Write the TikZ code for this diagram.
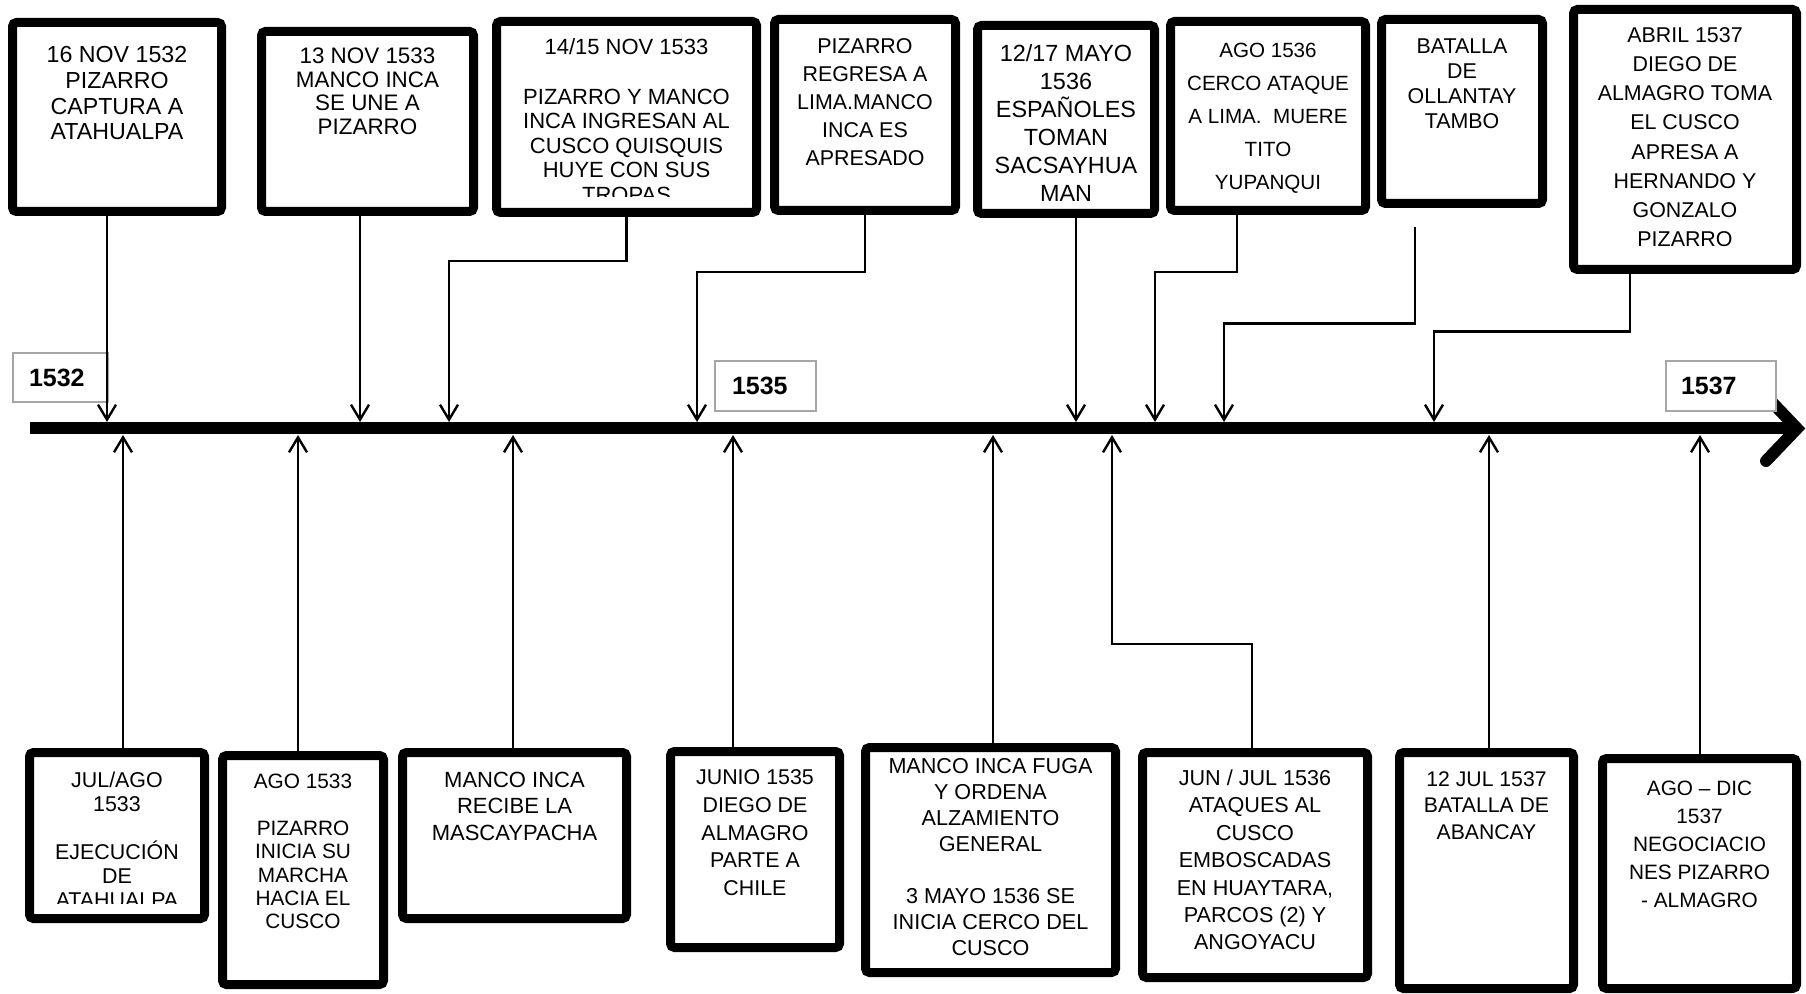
\documentclass[tikz,border=0pt]{standalone}
\usepackage{fontspec}
\setmainfont{Liberation Sans}
\usetikzlibrary{arrows.meta,positioning,calc}

\begin{document}
\begin{tikzpicture}[
  x=0.5pt, y=-0.5pt,
  caja/.style={draw, line width=4.5pt, rounded corners=2pt, fill=white, inner sep=0pt},
  texto/.style={align=center, inner sep=0pt},
  anio/.style={draw=gray!70, line width=0.6pt, fill=white, inner ysep=0pt, align=left,
               font=\fontsize{12.5}{14}\selectfont\bfseries},
  flecha/.style={-{Straight Barb[length=7.5pt,width=9pt]}, line width=1.2pt},
  eje/.style={line width=6pt}
]
\useasboundingbox (0,0) rectangle (1806,994);

% linea de tiempo
\draw[eje] (30,428.5) -- (1797,428.5);
\draw[eje, line cap=round] (1768,398) -- (1797,428.5) -- (1766,461);

\node[anio, minimum width=47.5pt, minimum height=24.5pt, text width=31.5pt, inner xsep=8pt] (a1532) at (60.5,377.5) {1532};
\node[anio, minimum width=50.5pt, minimum height=25pt, text width=33.5pt, inner xsep=8.5pt] (a1535) at (765.5,386) {1535};
\node[anio, minimum width=55pt, minimum height=25pt, text width=40pt, inner xsep=7.5pt] (a1537) at (1721,386) {1537};

% eventos de arriba
\node[caja, minimum width=104.5pt, minimum height=94.5pt] (captura) at (117,117) {};
\node[texto, font=\fontsize{11.6}{12.9}\selectfont, below=14pt of captura.north] (txtcaptura)
  {16 NOV 1532\\PIZARRO\\CAPTURA A\\ATAHUALPA};

\node[caja, minimum width=106pt, minimum height=90pt] (union) at (367.5,121.5) {};
\node[texto, font=\fontsize{11.2}{11.8}\selectfont, below=10.25pt of union.north] (txtunion)
  {13 NOV 1533\\MANCO INCA\\SE UNE A\\PIZARRO};

\node[caja, minimum width=130pt, minimum height=95.5pt] (ingreso) at (626.5,117) {};
\begin{scope}
  \clip (492,17) rectangle (761,197);
  \node[texto, font=\fontsize{11}{12.3}\selectfont, below=10.75pt of ingreso.north] (txtingreso)
    {14/15 NOV 1533\\ \\PIZARRO Y MANCO\\INCA INGRESAN AL\\CUSCO QUISQUIS\\HUYE CON SUS\\TROPAS};
\end{scope}

\node[caja, minimum width=90.5pt, minimum height=95.5pt] (regreso) at (865,115) {};
\node[texto, font=\fontsize{10.7}{14}\selectfont, below=11.75pt of regreso.north] (txtregreso)
  {PIZARRO\\REGRESA A\\LIMA.MANCO\\INCA ES\\APRESADO};

\node[caja, minimum width=88.5pt, minimum height=94pt] (sacsay) at (1066,119.5) {};
\node[texto, font=\fontsize{11.7}{14}\selectfont, below=11.5pt of sacsay.north] (txtsacsay)
  {12/17 MAYO\\1536\\ESPAÑOLES\\TOMAN\\SACSAYHUA\\MAN};

\node[caja, minimum width=97.5pt, minimum height=94.5pt] (cerco) at (1268,116) {};
\node[texto, font=\fontsize{10.3}{16.5}\selectfont, below=13pt of cerco.north] (txtcerco)
  {AGO 1536\\CERCO ATAQUE\\A LIMA.\ \ MUERE\\TITO\\YUPANQUI};

\node[caja, minimum width=80.5pt, minimum height=92pt] (ollanta) at (1462,111.5) {};
\node[texto, font=\fontsize{10.7}{12.5}\selectfont, below=11.5pt of ollanta.north] (txtollanta)
  {BATALLA\\DE\\OLLANTAY\\TAMBO};

\node[caja, minimum width=111.5pt, minimum height=130pt] (almagro) at (1685,139.5) {};
\node[texto, font=\fontsize{10.7}{14.6}\selectfont, below=11pt of almagro.north] (txtalmagro)
  {ABRIL 1537\\DIEGO DE\\ALMAGRO TOMA\\EL CUSCO\\APRESA A\\HERNANDO Y\\GONZALO\\PIZARRO};

% eventos de abajo
\node[caja, minimum width=87.5pt, minimum height=83pt] (ejecucion) at (117,835.5) {};
\begin{scope}
  \clip (25,748) rectangle (209,903);
  \node[texto, font=\fontsize{10.7}{12}\selectfont, below=12pt of ejecucion.north] (txtejecucion)
    {JUL/AGO\\1533\\ \\EJECUCIÓN\\DE\\ATAHUALPA};
\end{scope}

\node[caja, minimum width=80.5pt, minimum height=114.5pt] (marcha) at (303,870) {};
\node[texto, font=\fontsize{10.4}{11.7}\selectfont, below=11.25pt of marcha.north] (txtmarcha)
  {AGO 1533\\ \\PIZARRO\\INICIA SU\\MARCHA\\HACIA EL\\CUSCO};

\node[caja, minimum width=112pt, minimum height=83pt] (mascay) at (514.5,835.5) {};
\node[texto, font=\fontsize{11}{13.3}\selectfont, below=11.75pt of mascay.north] (txtmascay)
  {MANCO INCA\\RECIBE LA\\MASCAYPACHA};

\node[caja, minimum width=84.5pt, minimum height=98pt] (chile) at (755,849.5) {};
\node[texto, font=\fontsize{10.7}{13.8}\selectfont, below=11.25pt of chile.north] (txtchile)
  {JUNIO 1535\\DIEGO DE\\ALMAGRO\\PARTE A\\CHILE};

\node[caja, minimum width=125pt, minimum height=112.5pt] (fuga) at (990.5,860) {};
\node[texto, font=\fontsize{10.8}{13}\selectfont, below=7.75pt of fuga.north] (txtfuga)
  {MANCO INCA FUGA\\Y ORDENA\\ALZAMIENTO\\GENERAL\\ \\3 MAYO 1536 SE\\INICIA CERCO DEL\\CUSCO};

\node[caja, minimum width=112.5pt, minimum height=112.5pt] (ataques) at (1255,865) {};
\node[texto, font=\fontsize{10.8}{13.7}\selectfont, below=10.75pt of ataques.north] (txtataques)
  {JUN / JUL 1536\\ATAQUES AL\\CUSCO\\EMBOSCADAS\\EN HUAYTARA,\\PARCOS (2) Y\\ANGOYACU};

\node[caja, minimum width=87pt, minimum height=118pt] (abancay) at (1486.5,870.5) {};
\node[texto, font=\fontsize{10.6}{13.3}\selectfont, below=11.5pt of abancay.north] (txtabancay)
  {12 JUL 1537\\BATALLA DE\\ABANCAY};

\node[caja, minimum width=97pt, minimum height=115pt] (negocia) at (1699.5,873.5) {};
\node[texto, font=\fontsize{10.4}{14}\selectfont, below=13.5pt of negocia.north] (txtnegocia)
  {AGO – DIC\\1537\\NEGOCIACIO\\NES PIZARRO\\- ALMAGRO};

% llegadas al eje
\coordinate (pcaptura) at (107,422);
\coordinate (punion) at (360,422);
\coordinate (pingreso) at (449,422);
\coordinate (pregreso) at (697,422);
\coordinate (psacsay) at (1076,422);
\coordinate (pcerco) at (1155,422);
\coordinate (pollanta) at (1224,422);
\coordinate (palmagro) at (1434,422);
\coordinate (qejecucion) at (123,435);
\coordinate (qmarcha) at (298,435);
\coordinate (qmascay) at (513,435);
\coordinate (qchile) at (733,435);
\coordinate (qfuga) at (993,435);
\coordinate (qataques) at (1112,435);
\coordinate (qabancay) at (1489,435);
\coordinate (qnegocia) at (1700,435);

\draw[flecha] (captura.south -| pcaptura) -- (pcaptura);
\draw[flecha] (union.south -| punion) -- (punion);
\draw[flecha] (ingreso.south) -- ++(0,44) -| (pingreso);
\draw[flecha] (regreso.south) -- ++(0,57) -| (pregreso);
\draw[flecha] (sacsay.south -| psacsay) -- (psacsay);
\draw[flecha] ($(cerco.south)+(-31,0)$) -- ++(0,57) -| (pcerco);
\draw[flecha] ($(ollanta.south)+(-47,19.5)$) -- ++(0,96) -| (pollanta);
\draw[flecha] ($(almagro.south)+(-55,0)$) -- ++(0,57.5) -| (palmagro);

\draw[flecha] (ejecucion.north -| qejecucion) -- (qejecucion);
\draw[flecha] (marcha.north -| qmarcha) -- (qmarcha);
\draw[flecha] (mascay.north -| qmascay) -- (qmascay);
\draw[flecha] (chile.north -| qchile) -- (qchile);
\draw[flecha] (fuga.north -| qfuga) -- (qfuga);
\draw[flecha] ($(ataques.north)+(-3,0)$) -- ++(0,-104) -| (qataques);
\draw[flecha] (abancay.north -| qabancay) -- (qabancay);
\draw[flecha] (negocia.north -| qnegocia) -- (qnegocia);

\end{tikzpicture}
\end{document}
